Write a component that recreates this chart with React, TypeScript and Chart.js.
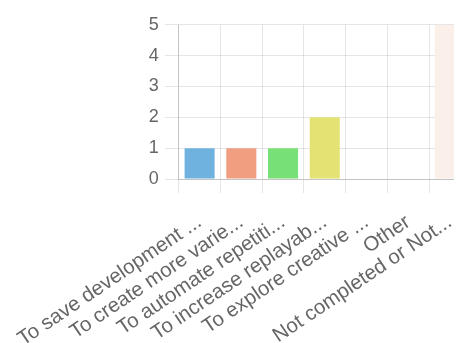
import React, { useEffect, useRef } from "react";
import { Chart, registerables } from "chart.js";

Chart.register(...registerables);

const categories = [
  "To save development ...",
  "To create more varie...",
  "To automate repetiti...",
  "To increase replayab...",
  "To explore creative ...",
  "Other",
  "Not completed or Not...",
];

const responses = [1, 1, 1, 2, 0, 0, 5];

const barColors = [
  "#6fb2df",
  "#f09d80",
  "#77e077",
  "#e3e272",
  "#c9a0dc",
  "#a0c4e0",
  "#fbefea",
];

const yTicks = [0, 1, 2, 3, 4, 5];

export default function App() {
  const canvasRef = useRef<HTMLCanvasElement | null>(null);

  useEffect(() => {
    if (!canvasRef.current) return;
    const chart = new Chart(canvasRef.current, {
      type: "bar",
      data: {
        labels: categories,
        datasets: [
          {
            data: responses,
            backgroundColor: barColors,
            borderWidth: 0,
          },
        ],
      },
      options: {
        animation: false,
        responsive: true,
        maintainAspectRatio: false,
        layout: { padding: { top: 11, left: 0, right: 0, bottom: 0 } },
        plugins: {
          legend: { display: false },
          tooltip: { enabled: false },
        },
        scales: {
          x: {
            grid: {
              color: "rgba(0,0,0,0.1)",
              tickLength: 14,
              offset: true,
            },
            border: { color: "rgba(0,0,0,0.15)" },
            afterFit: (scale: any) => {
              // labels sit lower than the default spacing; keep the plot's left edge tight
              scale.paddingLeft = Math.max(scale.paddingLeft - 8, 0);
              scale.height += 2;
            },
            ticks: {
              color: "#666",
              font: { family: "'Liberation Sans', Arial, sans-serif", size: 20.5 },
              minRotation: 34,
              maxRotation: 34,
              autoSkip: false,
              padding: 17,
            },
          },
          y: {
            min: 0,
            max: 5,
            grid: {
              color: "rgba(0,0,0,0.1)",
              tickLength: 14,
            },
            border: { color: "rgba(0,0,0,0.15)" },
            afterBuildTicks: (scale: any) => {
              scale.ticks = yTicks.map((v) => ({ value: v }));
            },
            ticks: {
              color: "#666",
              font: { family: "'Liberation Sans', Arial, sans-serif", size: 18 },
              padding: 6,
            },
          },
        },
      },
    });
    return () => chart.destroy();
  }, []);

  return (
    <div style={{ width: "454px", overflow: "hidden" }}>
      <div style={{ width: "463px", height: "335px", position: "relative" }}>
        <canvas ref={canvasRef} />
      </div>
    </div>
  );
}
